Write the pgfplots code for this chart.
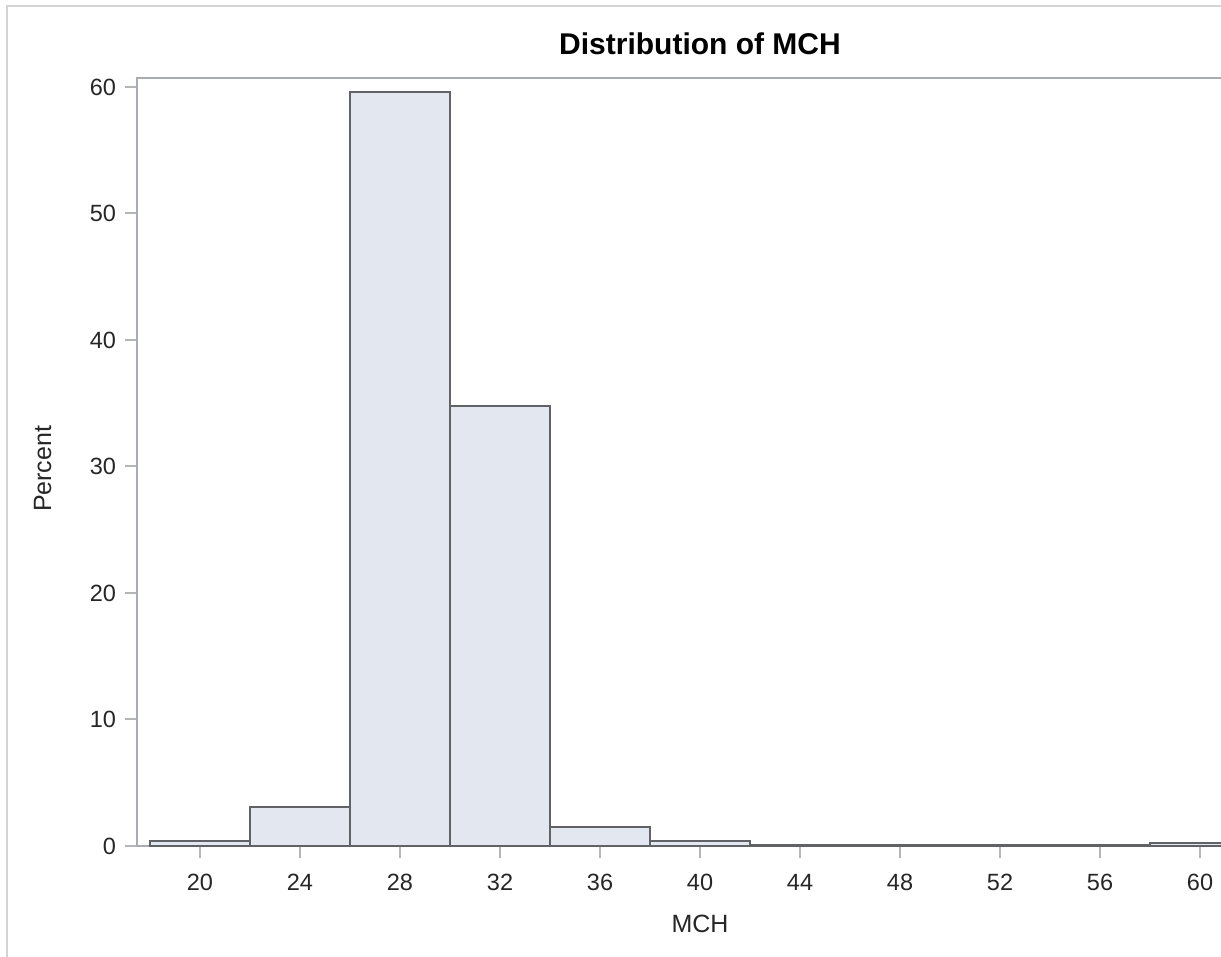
\documentclass[border=0pt]{standalone}
\usepackage{pgfplots}
\pgfplotsset{compat=1.18}
\usepackage{fontspec}
\setmainfont{Liberation Sans}
\definecolor{barfill}{HTML}{E3E7F0}
\definecolor{baredge}{HTML}{606266}
\definecolor{framec}{HTML}{A9ACB0}
\definecolor{tickc}{HTML}{B4B6B9}
\definecolor{borderc}{HTML}{D4D4D4}
\begin{document}
\begin{tikzpicture}
\useasboundingbox (0,0) rectangle (610.5pt,478.5pt);
\draw[borderc, line width=1pt] (3.25pt,-60pt) -- (3.25pt,475.25pt) -- (700pt,475.25pt);
\begin{axis}[
  at={(68.5pt,55.5pt)}, anchor=south west,
  scale only axis, width=563pt, height=384pt,
  xmin=17.48, xmax=62.52, ymin=0, ymax=60.71,
  xtick={20,24,...,60}, ytick={0,10,...,60},
  axis line style={framec, line width=1pt},
  tick align=outside, xtick pos=bottom, ytick pos=left,
  major tick length=6pt,
  every tick/.style={tickc, line width=1pt},
  tick label style={font=\fontsize{11.75}{14}\selectfont, text=black!85},
  /pgf/number format/assume math mode=true,
  xticklabel shift=4.5pt, yticklabel shift=1pt,
  xlabel={MCH}, ylabel={Percent},
  label style={font=\fontsize{12.5}{15}\selectfont, text=black!85},
  xlabel style={at={(axis description cs:0.5,0)}, anchor=center, yshift=-39pt},
  ylabel style={at={(axis description cs:-0.0839,0.491)}, anchor=center},
  title={Distribution of MCH},
  title style={font=\bfseries\fontsize{15}{18}\selectfont, at={(axis description cs:0.5,1)}, anchor=center, yshift=11pt},
  clip=false,
]
\addplot[ybar interval, fill=barfill, draw=baredge, line width=0.9pt] coordinates {
(18,0.4) (22,3.1) (26,59.6) (30,34.8) (34,1.5) (38,0.4) (42,0.05) (46,0.05) (50,0.05) (54,0.05) (58,0.25) (62,0.25)
};
\end{axis}
\end{tikzpicture}
\end{document}
